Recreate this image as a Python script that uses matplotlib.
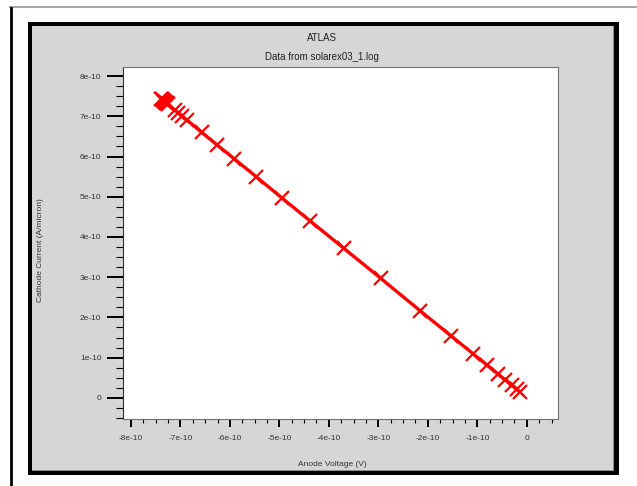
import matplotlib
matplotlib.use("Agg")
import matplotlib.pyplot as plt
from matplotlib.patches import Rectangle
from matplotlib.lines import Line2D
from matplotlib.ticker import MultipleLocator, FuncFormatter

plt.rcParams['font.family'] = ['Liberation Sans', 'DejaVu Sans']

# data (values in units of 1e-10)
anode_voltage = [-7.40, -7.38, -7.36, -7.34, -7.32, -7.30, -7.28, -7.26,
                 -7.11, -7.05, -6.97, -6.87, -6.57, -6.26, -5.92, -5.47,
                 -4.95, -4.38, -3.70, -2.95, -2.16, -1.54, -1.09, -0.81,
                 -0.59, -0.44, -0.30, -0.20, -0.14]
cathode_current = [7.44, 7.42, 7.40, 7.38, 7.36, 7.34, 7.32, 7.30,
                   7.15, 7.09, 7.01, 6.91, 6.60, 6.29, 5.95, 5.50,
                   4.97, 4.40, 3.72, 2.97, 2.17, 1.55, 1.10, 0.82,
                   0.60, 0.45, 0.31, 0.21, 0.15]
scale = 1e-10
x_major = [-8, -7, -6, -5, -4, -3, -2, -1, 0]
y_major = [0, 1, 2, 3, 4, 5, 6, 7, 8]

W, H = 637, 486
fig = plt.figure(figsize=(W / 100, H / 100), dpi=100)
fig.patch.set_facecolor('white')

def frect(x0, y0, x1, y1, **kw):
    r = Rectangle((x0 / W, 1 - y1 / H), (x1 - x0) / W, (y1 - y0) / H,
                  transform=fig.transFigure, zorder=-10, **kw)
    fig.patches.append(r)

def fline(xs, ys, **kw):
    fig.lines.append(Line2D([x / W for x in xs], [1 - y / H for y in ys],
                            transform=fig.transFigure, zorder=-10, **kw))

# page border lines
fline([10, 637], [7.5, 7.5], color='#a8a8a8', lw=1.5)
fline([11, 11], [8, 486], color='black', lw=2)
# panel
frect(28, 22, 619, 475, facecolor='black', edgecolor='none')
frect(32, 26, 614, 471, facecolor='#8c8c8c', edgecolor='none')
frect(32, 26, 613, 470, facecolor='#d6d6d6', edgecolor='none')

ax_l, ax_r, ax_t, ax_b = 123, 558, 67, 419
ax = fig.add_axes([ax_l / W, 1 - ax_b / H, (ax_r - ax_l) / W, (ax_b - ax_t) / H])
ax.set_facecolor('white')

xv = [v * scale for v in anode_voltage]
yv = [v * scale for v in cathode_current]
ax.plot(xv, yv, color='red', lw=2.4, marker='x', markersize=10,
        markeredgewidth=1.6, solid_capstyle='butt')

ax.set_xlim(-8.16e-10, 0.63e-10)
ax.set_ylim(-0.525e-10, 8.225e-10)

ax.set_xticks([v * scale for v in x_major])
ax.set_yticks([v * scale for v in y_major])
ax.xaxis.set_minor_locator(MultipleLocator(0.25e-10))
ax.yaxis.set_minor_locator(MultipleLocator(0.25e-10))

def fmt(v, pos):
    n = round(v / scale)
    return '0' if n == 0 else f'{n}e-10'
ax.xaxis.set_major_formatter(FuncFormatter(fmt))
ax.yaxis.set_major_formatter(FuncFormatter(fmt))

ax.tick_params(axis='y', which='major', direction='out', length=11.5, width=1.4,
               color='black', labelsize=6, labelcolor='#333333', pad=4)
ax.tick_params(axis='y', which='minor', direction='out', length=5, width=0.8, color='black')
ax.tick_params(axis='x', which='major', direction='out', length=5.5, width=1.4,
               color='black', labelsize=6, labelcolor='#333333', pad=6)
ax.tick_params(axis='x', which='minor', direction='out', length=3, width=0.8, color='black')

for s in ax.spines.values():
    s.set_color('#707070')
    s.set_linewidth(0.8)
ax.spines['left'].set_color('#303030')

fig.text(322 / W, 1 - 38 / H, 'ATLAS', ha='center', va='center', fontsize=7, color='#222222')
fig.text(322 / W, 1 - 57 / H, 'Data from solarex03_1.log', ha='center', va='center',
         fontsize=7, color='#222222')
fig.text(332 / W, 1 - 464 / H, 'Anode Voltage (V)', ha='center', va='center',
         fontsize=6, color='#333333')
fig.text(41 / W, 1 - 250 / H, 'Cathode Current (A/micron)', ha='center', va='center',
         rotation=90, fontsize=6, color='#333333')

fig.savefig('out.png', dpi=100)
